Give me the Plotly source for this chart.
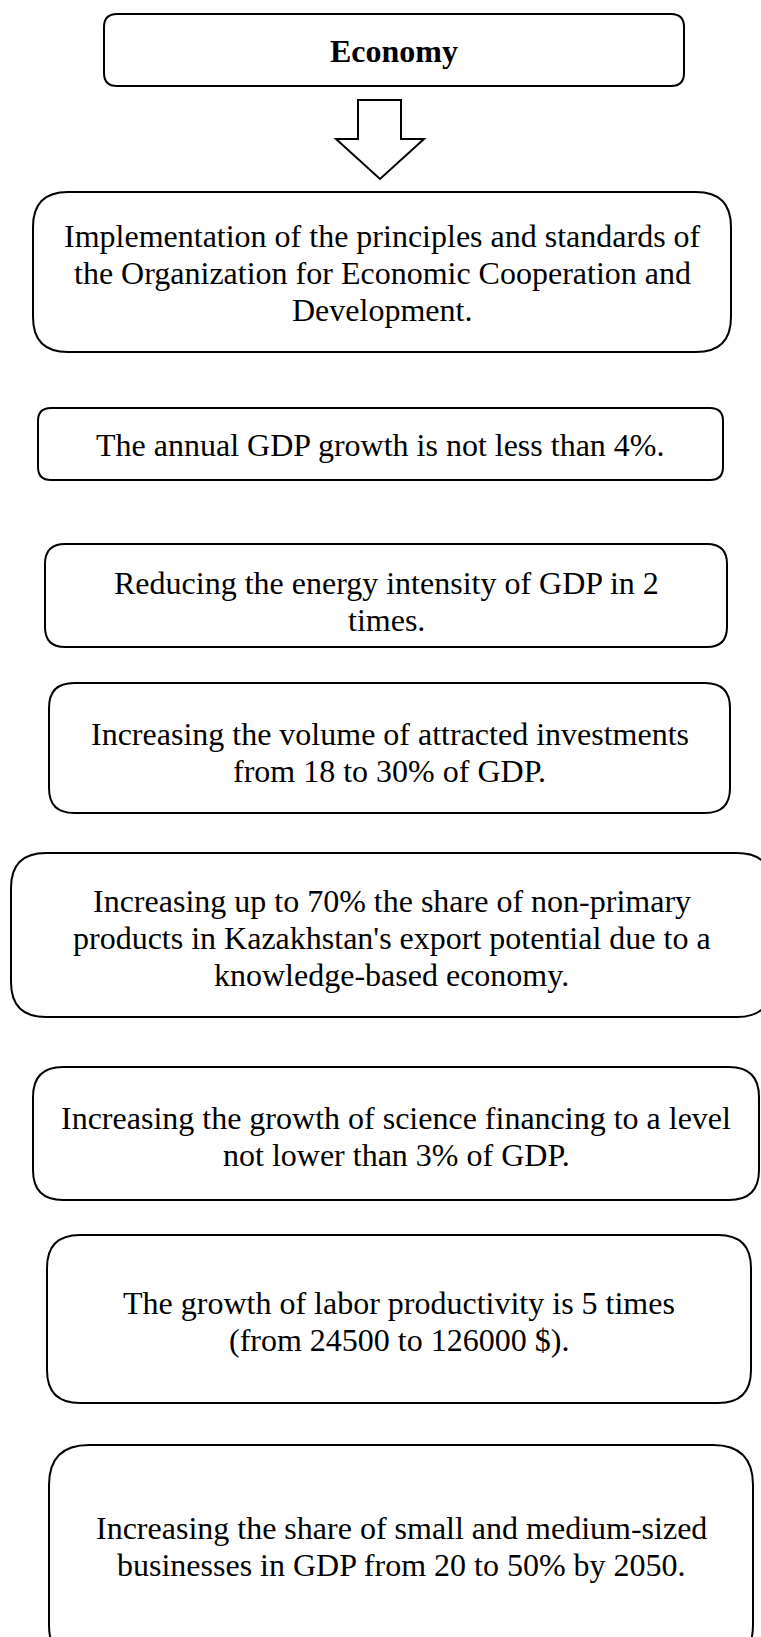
import plotly.graph_objects as go

# Diagram text
title_text = "Economy"
box_lines = [
    ["Implementation of the principles and standards of",
     "the Organization for Economic Cooperation and",
     "Development."],
    ["The annual GDP growth is not less than 4%."],
    ["Reducing the energy intensity of GDP in 2",
     "times."],
    ["Increasing the volume of attracted investments",
     "from 18 to 30% of GDP."],
    ["Increasing up to 70% the share of non-primary",
     "products in Kazakhstan's export potential due to a",
     "knowledge-based economy."],
    ["Increasing the growth of science financing to a level",
     "not lower than 3% of GDP."],
    ["The growth of labor productivity is 5 times",
     "(from 24500 to 126000 $)."],
    ["Increasing the share of small and medium-sized",
     "businesses in GDP from 20 to 50% by 2050."],
]

# Box geometry (pixels, y downwards)
title_box = [104, 14, 684, 86, 13]
box_left = [33, 38, 45, 49, 11, 33, 47, 49]
box_top = [192, 408, 544, 683, 853, 1067, 1235, 1445]
box_right = [731, 723, 727, 730, 772, 759, 751, 753]
box_bottom = [352, 480, 647, 813, 1017, 1200, 1403, 1665]
box_radius = [35, 13, 20, 25, 35, 30, 33, 40]
text_center_y = [273, 445, 601, 752, 938, 1136, 1321, 1546]

W, H = 761, 1637
LINE_GAP = 37
FONT = dict(family="Liberation Serif, Times New Roman, serif", size=32, color="black")


def rounded_rect(x0, y0, x1, y1, r):
    return (f"M {x0 + r},{y0} L {x1 - r},{y0} Q {x1},{y0} {x1},{y0 + r} "
            f"L {x1},{y1 - r} Q {x1},{y1} {x1 - r},{y1} "
            f"L {x0 + r},{y1} Q {x0},{y1} {x0},{y1 - r} "
            f"L {x0},{y0 + r} Q {x0},{y0} {x0 + r},{y0} Z")


fig = go.Figure()
shapes = []
annotations = []

# Title box
x0, y0, x1, y1, r = title_box
shapes.append(dict(type="path", path=rounded_rect(x0, y0, x1, y1, r),
                   line=dict(color="black", width=2), fillcolor="white"))
annotations.append(dict(x=(x0 + x1) / 2, y=(y0 + y1) / 2 + 1, text="<b>" + title_text + "</b>",
                        showarrow=False, xanchor="center", yanchor="middle", font=FONT))

# Block arrow
arrow = "M 358,100 L 401,100 L 401,139 L 424,139 L 380,179 L 336,139 L 358,139 Z"
shapes.append(dict(type="path", path=arrow, line=dict(color="black", width=2), fillcolor="white"))

# Content boxes
for i, lines in enumerate(box_lines):
    x0, y0, x1, y1, r = box_left[i], box_top[i], box_right[i], box_bottom[i], box_radius[i]
    shapes.append(dict(type="path", path=rounded_rect(x0, y0, x1, y1, r),
                       line=dict(color="black", width=2), fillcolor="white"))
    cx = (x0 + x1) / 2
    n = len(lines)
    for j, line in enumerate(lines):
        ly = text_center_y[i] + (j - (n - 1) / 2) * LINE_GAP
        annotations.append(dict(x=cx, y=ly, text=line, showarrow=False,
                                xanchor="center", yanchor="middle", font=FONT))

fig.update_layout(
    width=W, height=H,
    margin=dict(l=0, r=0, t=0, b=0),
    paper_bgcolor="white", plot_bgcolor="white",
    xaxis=dict(range=[0, W], visible=False, fixedrange=True),
    yaxis=dict(range=[H, 0], visible=False, fixedrange=True),
    shapes=shapes, annotations=annotations,
    showlegend=False,
)

# drop the default page margin so the figure sits at the window origin
fig.write_html("out.html", config={"displayModeBar": False},
               post_script="document.body.style.margin='0';document.body.style.overflow='hidden';")
